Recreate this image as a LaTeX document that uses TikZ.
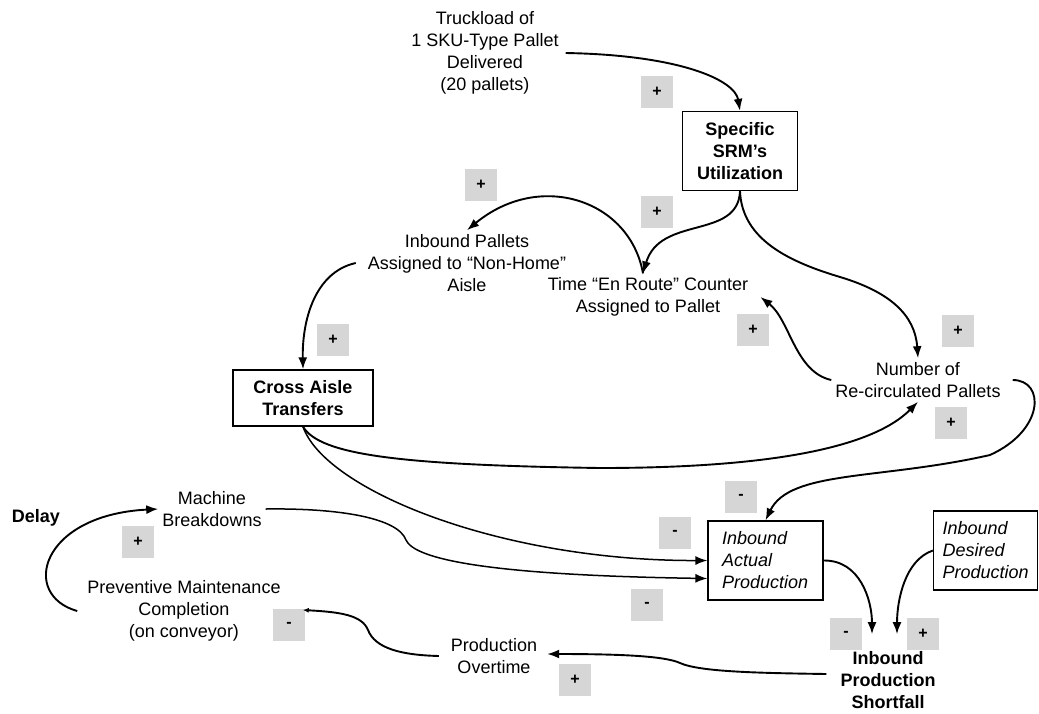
\documentclass[tikz,border=0pt]{standalone}
\usepackage{fontspec}
\setmainfont{Liberation Sans}
\usetikzlibrary{arrows.meta}

\begin{document}
\begin{tikzpicture}[x=1pt,y=-1pt,
    font=\fontsize{18}{22}\selectfont,
    var/.style={align=center,inner sep=4pt},
    stock/.style={draw,line width=1.3pt,align=center,font=\fontsize{18}{22}\selectfont\bfseries},
    aux/.style={draw,line width=1.3pt,align=left,minimum height=79pt,font=\fontsize{18}{22}\selectfont\itshape},
    sign/.style={fill=gray!32,minimum size=32pt,inner sep=0pt,font=\fontsize{16}{16}\selectfont\bfseries},
    link/.style={line width=1.9pt,-{Latex[length=12pt,width=9pt]}}]
    \useasboundingbox (0,0) rectangle (1039,713);

    \node[var] (truck) at (485,53) {Truckload of\\1 SKU-Type Pallet\\Delivered\\(20 pallets)};
    \node[stock,minimum width=115pt,minimum height=79pt] (srm) at (740,151) {Specific\\SRM’s\\Utilization};
    \node[var] (nonhome) at (467,263) {Inbound Pallets\\Assigned to “Non-Home”\\Aisle};
    \node[var] (enroute) at (648,297) {Time “En Route” Counter\\Assigned to Pallet};
    \node[stock,minimum width=140pt,minimum height=56pt] (cross) at (303,398) {Cross Aisle\\Transfers};
    \node[var] (recirc) at (918,380) {Number of\\Re-circulated Pallets};
    \node[var] (machine) at (212,509) {Machine\\Breakdowns};
    \node[font=\fontsize{18}{22}\selectfont\bfseries] (delay) at (36,518) {Delay};
    \node[var] (pm) at (184,611) {Preventive Maintenance\\Completion\\(on conveyor)};
    \node[aux,text width=87pt,inner xsep=14pt] (actual) at (765.5,560.5) {Inbound\\Actual\\Production};
    \node[aux,text width=86pt,inner xsep=9pt] (desired) at (985.5,550.5) {Inbound\\Desired\\Production};
    \node[var,font=\fontsize{18}{22}\selectfont\bfseries] (short) at (888,680) {Inbound\\Production\\Shortfall};
    \node[var] (overtime) at (494,656) {Production\\Overtime};

    \node[sign] (s1) at (657,92) {+};
    \node[sign] (s2) at (481,185) {+};
    \node[sign] (s3) at (657,212) {+};
    \node[sign] (s4) at (333,340) {+};
    \node[sign] (s5) at (753,330) {+};
    \node[sign] (s6) at (958,331) {+};
    \node[sign] (s7) at (951,423) {+};
    \node[sign] (s8) at (741,497) {-};
    \node[sign] (s9) at (675,533) {-};
    \node[sign] (s10) at (647,605) {-};
    \node[sign] (s11) at (138,542) {+};
    \node[sign] (s12) at (289,625) {-};
    \node[sign] (s13) at (846,634) {-};
    \node[sign] (s14) at (923,634) {+};
    \node[sign] (s15) at (575,680) {+};

    \draw[link] ([xshift=3pt]truck.east) .. controls (680,55) and (735,80) .. (srm.north);
    \draw[link] (srm.south) .. controls (738,240) and (660,215) .. ([xshift=-5pt]enroute.north);
    \draw[link] ([xshift=-5pt]enroute.north) .. controls (630,200) and (540,170) .. (nonhome.north);
    \draw[link] (srm.south) .. controls (742,240) and (790,262) .. (840,277)
        .. controls (890,292) and (915,315) .. (recirc.north);
    \draw[link] (recirc.west) .. controls (795,372) and (790,320) .. ([xshift=8pt]enroute.east);
    \draw[link] ([xshift=-8pt]nonhome.west) .. controls (315,272) and (302,320) .. (cross.north);
    \draw[link] (cross.south) .. controls (320,455) and (400,465) .. (600,468)
        .. controls (760,468) and (870,450) .. (recirc.south);
    \draw[link,line width=1.5pt] (cross.south) .. controls (325,490) and (500,561) .. (actual.west);
    \draw[link,line width=1.5pt] (machine.east) .. controls (340,508) and (398,518) .. (406,540)
        .. controls (414,558) and (480,575) .. ([yshift=-18pt]actual.west);
    \draw[link] ([xshift=8pt]recirc.east) .. controls (1045,380) and (1045,430) .. (990,455)
        .. controls (880,480) and (790,470) .. (actual.north);
    \draw[link] (actual.east) .. controls (860,560) and (872,600) .. ([xshift=-16pt,yshift=13pt]short.north);
    \draw[link] (desired.west) .. controls (905,560) and (897,600) .. ([xshift=9pt,yshift=13pt]short.north);
    \draw[link] ([xshift=-10pt,yshift=6pt]short.west) .. controls (760,673) and (700,672) .. (680,663)
        .. controls (665,656) and (620,654) .. ([xshift=6pt,yshift=2pt]overtime.east);
    \draw[link,-{Latex[length=6pt,width=5pt]}] ([xshift=-8pt]overtime.west) .. controls (400,655) and (375,648) .. (368,630)
        .. controls (362,615) and (340,612) .. ([xshift=18pt,yshift=1pt]pm.east);
    \draw[link] ([xshift=-6pt]pm.west) .. controls (20,595) and (40,515) .. (machine.west);
\end{tikzpicture}
\end{document}
